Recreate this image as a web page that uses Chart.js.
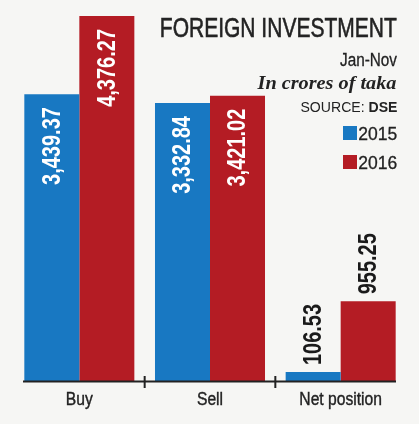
<!DOCTYPE html>
<html><head><meta charset="utf-8">
<script src="https://cdn.jsdelivr.net/npm/chart.js@4/dist/chart.umd.min.js"></script>
<style>
html,body{margin:0;padding:0;background:#f6f6f4;}
#wrap{position:relative;width:419px;height:424px;overflow:hidden;}
canvas{position:absolute;left:0;top:0;}
.t{position:absolute;right:22px;white-space:nowrap;color:#222;transform-origin:100% 50%;}
#title{top:14px;font:28px "Liberation Sans",sans-serif;line-height:28px;color:#232323;-webkit-text-stroke:0.6px #232323;}
#sub{top:51px;font:18px "Liberation Sans",sans-serif;line-height:18px;-webkit-text-stroke:0.3px #222;}
#unit{top:74px;font:italic bold 18px "Liberation Serif",serif;line-height:18px;}
#src{top:100px;font:14px "Liberation Sans",sans-serif;line-height:14px;}
.sq{position:absolute;left:343px;width:14px;height:14px;}
.lgt{position:absolute;right:22px;font:18.5px "Liberation Sans",sans-serif;line-height:18.5px;color:#222;white-space:nowrap;transform-origin:100% 50%;-webkit-text-stroke:0.3px #222;}
</style></head>
<body><div id="wrap">
<canvas id="c" width="419" height="424"></canvas>
<div class="t" id="title" data-w="237">FOREIGN INVESTMENT</div>
<div class="t" id="sub" data-w="57">Jan-Nov</div>
<div class="t" id="unit" data-w="139">In crores of taka</div>
<div class="t" id="src" data-w="97">SOURCE: <b>DSE</b></div>
<div id="legend"></div>
</div>
<script>
const categories = ["Buy", "Sell", "Net position"];
const seriesNames = ["2015", "2016"];
const values2015 = [3439.37, 3332.84, 106.53];
const values2016 = [4376.27, 3421.02, 955.25];
const labels2015 = ["3,439.37", "3,332.84", "106.53"];
const labels2016 = ["4,376.27", "3,421.02", "955.25"];
const colors = ["#1878c2", "#b41c24"];

const legendEl = document.getElementById('legend');
seriesNames.forEach((n, i) => {
  const sq = document.createElement('div');
  sq.className = 'sq';
  sq.style.top = (126 + i * 29) + 'px';
  sq.style.background = colors[i];
  legendEl.appendChild(sq);
  const t = document.createElement('div');
  t.className = 'lgt';
  t.style.top = (124.5 + i * 29) + 'px';
  t.dataset.w = '39';
  t.textContent = n;
  legendEl.appendChild(t);
});

document.querySelectorAll('[data-w]').forEach(el => {
  const w = el.getBoundingClientRect().width;
  el.style.transform = 'scaleX(' + (parseFloat(el.dataset.w) / w) + ')';
});

const SANS = '"Liberation Sans", Arial, sans-serif';

const valueLabels = {
  id: 'valueLabels',
  afterDatasetsDraw(chart) {
    const ctx = chart.ctx;
    const texts = [labels2015, labels2016];
    chart.data.datasets.forEach((ds, di) => {
      const meta = chart.getDatasetMeta(di);
      meta.data.forEach((bar, i) => {
        const h = bar.base - bar.y;
        const inside = h > 150;
        ctx.save();
        ctx.translate(bar.x, inside ? bar.y + 13 : bar.y - 7);
        ctx.rotate(-Math.PI / 2);
        ctx.scale(0.8, 1);
        ctx.font = 'bold 25px ' + SANS;
        ctx.textBaseline = 'middle';
        ctx.textAlign = inside ? 'right' : 'left';
        ctx.fillStyle = inside ? '#ffffff' : '#1a1a1a';
        ctx.fillText(texts[di][i], 0, 1);
        ctx.restore();
      });
    });
  }
};

const axisLine = {
  id: 'axisLine',
  afterDatasetsDraw(chart) {
    const ctx = chart.ctx;
    const x = chart.scales.x;
    const y = chart.chartArea.bottom;
    ctx.save();
    ctx.strokeStyle = '#222';
    ctx.lineWidth = 2;
    ctx.beginPath();
    ctx.moveTo(chart.chartArea.left + 9, y + 0.5);
    ctx.lineTo(chart.chartArea.right - 10, y + 0.5);
    ctx.stroke();
    for (let i = 0; i < categories.length - 1; i++) {
      const bx = (x.getPixelForTick(i) + x.getPixelForTick(i + 1)) / 2;
      ctx.beginPath();
      ctx.moveTo(bx, y - 5);
      ctx.lineTo(bx, y + 7);
      ctx.stroke();
    }
    ctx.font = '18px ' + SANS;
    ctx.fillStyle = '#222';
    ctx.strokeStyle = '#222';
    ctx.lineWidth = 0.4;
    ctx.textAlign = 'center';
    ctx.textBaseline = 'alphabetic';
    categories.forEach((c, i) => {
      ctx.save();
      ctx.translate(x.getPixelForTick(i), y + 24);
      ctx.scale(0.87, 1);
      ctx.fillText(c, 0, 0);
      ctx.strokeText(c, 0, 0);
      ctx.restore();
    });
    ctx.restore();
  }
};

new Chart(document.getElementById('c'), {
  type: 'bar',
  data: {
    labels: categories,
    datasets: [
      { label: seriesNames[0], data: values2015, backgroundColor: colors[0] },
      { label: seriesNames[1], data: values2016, backgroundColor: colors[1] }
    ]
  },
  options: {
    responsive: false,
    animation: false,
    devicePixelRatio: 1,
    layout: { padding: { top: 14, left: 14, right: 13, bottom: 43 } },
    datasets: { bar: { categoryPercentage: 0.842, barPercentage: 1.0 } },
    plugins: { legend: { display: false }, tooltip: { enabled: false } },
    scales: {
      x: { display: false },
      y: { display: false, min: 0, max: 4400 }
    }
  },
  plugins: [valueLabels, axisLine]
});
</script>
</body></html>
